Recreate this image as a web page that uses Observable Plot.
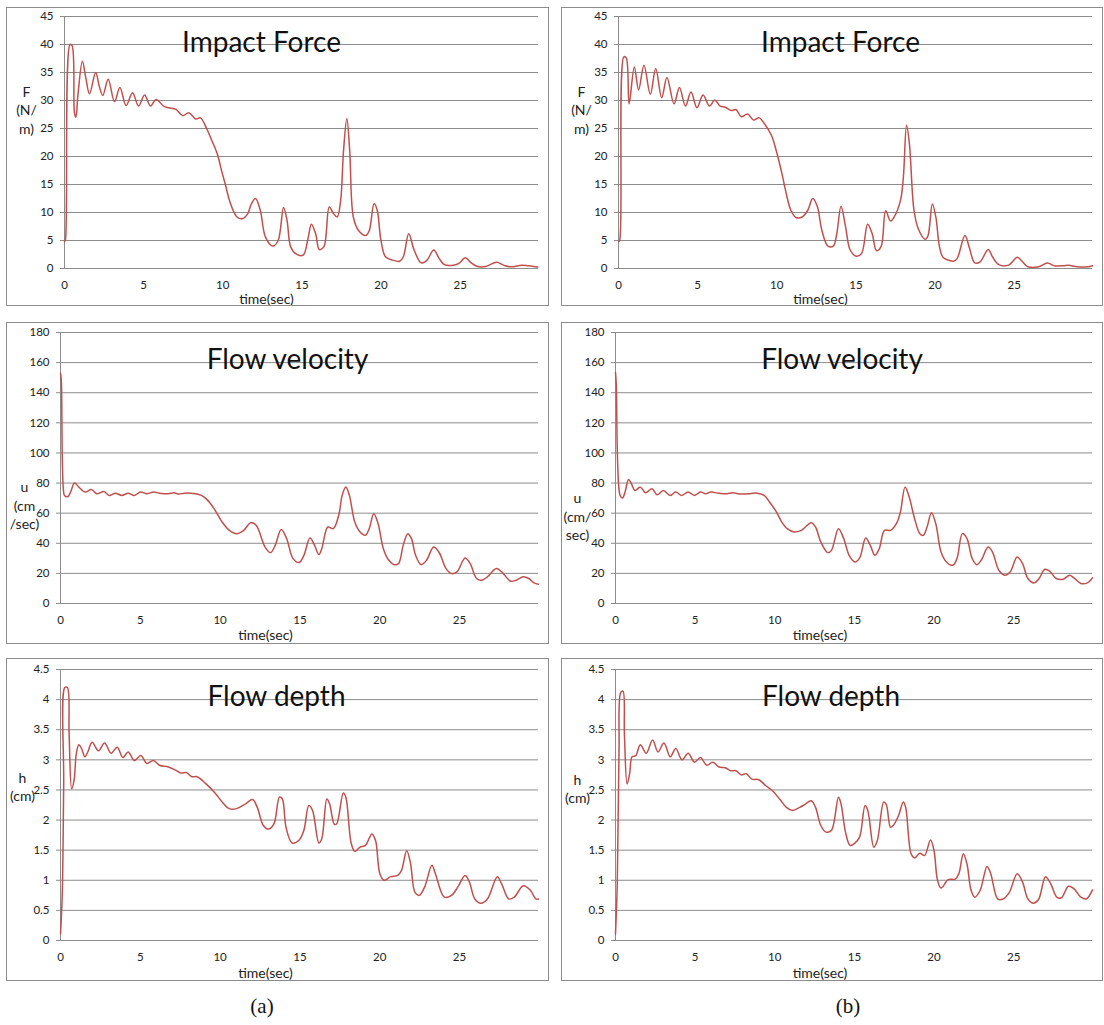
<!DOCTYPE html>
<html>
<head>
<meta charset="utf-8">
<script src="https://cdn.jsdelivr.net/npm/d3@7"></script>
<script src="https://cdn.jsdelivr.net/npm/@observablehq/plot@0.6"></script>
<style>
  html, body { margin: 0; padding: 0; background: #fff; }
  #root { position: relative; width: 1104px; height: 1025px; overflow: hidden; background: #fff; }
  .panel { position: absolute; overflow: hidden; background: #fff; }
  .panel svg { position: absolute; left: 0; top: 0; }
  .border { position: absolute; inset: 0; border: 1px solid #8c8c8c; box-sizing: border-box; pointer-events: none; }
  .cap { position: absolute; font-family: "Liberation Serif", "Times New Roman", serif; font-size: 21px; color: #111; transform: translateX(-50%); }
</style>
</head>
<body>
<div id="root"></div>
<script>
// ---------- data: [time (sec), value] ----------
const forceA = [[0,4.8],[0.06,5.2],[0.35,40],[0.48,39.8],[0.63,27.8],[0.72,27],[0.85,31],[1.13,37],[1.35,34],[1.58,31.2],[1.97,35],[2.2,32.5],[2.42,30.9],[2.76,33.8],[3.16,29.8],[3.5,32.3],[3.89,29.1],[4.3,31.4],[4.68,29],[5.06,31],[5.43,29],[5.79,30.2],[6.26,29],[6.6,28.7],[7.05,28.4],[7.46,27.3],[7.85,27.8],[8.3,26.7],[8.59,26.9],[8.98,25],[9.3,22.9],[9.65,20.5],[9.95,17.2],[10.2,14.6],[10.45,11.9],[10.9,9.2],[11.24,8.9],[11.58,9.8],[11.8,11.5],[12.07,12.5],[12.37,10.4],[12.7,5.6],[13.16,4],[13.5,5],[13.84,10.9],[14.06,8.6],[14.29,3.9],[14.63,2.6],[15.08,2.4],[15.37,5.1],[15.6,7.9],[15.87,6.2],[16.1,3.4],[16.39,3.9],[16.73,11],[17.0,9.8],[17.23,9.2],[17.45,12.2],[17.63,21],[17.84,26.8],[18.02,21.1],[18.25,9.2],[18.58,6.8],[19.04,5.9],[19.26,6.8],[19.56,11.6],[19.76,10.4],[19.99,5.1],[20.28,2.1],[20.73,1.5],[21.18,1.3],[21.41,2.1],[21.75,6.2],[22.09,3.3],[22.54,1],[22.88,1.4],[23.33,3.3],[23.67,1.8],[24.0,0.7],[24.58,0.6],[24.92,0.9],[25.32,1.9],[25.7,1],[26.05,0.4],[26.6,0.35],[27.3,1.1],[27.74,0.6],[28.2,0.3],[28.9,0.6],[29.3,0.5],[29.9,0.25]];

const forceB = [[0,4.8],[0.07,5],[0.34,37.8],[0.49,37.6],[0.67,29.4],[1.0,36],[1.27,31.9],[1.61,36.3],[2.01,31.1],[2.35,35.7],[2.73,30.5],[3.06,34.1],[3.51,29.4],[3.85,32.3],[4.23,29],[4.58,31.5],[4.96,28.7],[5.34,31],[5.75,29],[6.08,30.1],[6.42,29],[6.75,28.8],[7.13,28.2],[7.42,28.4],[7.76,27.1],[8.16,27.6],[8.54,26.5],[8.88,26.9],[9.21,25.9],[9.66,23.8],[9.99,20.8],[10.33,16.9],[10.55,14],[10.89,10.4],[11.22,9.1],[11.6,9.2],[11.96,10.4],[12.27,12.5],[12.56,11.1],[12.85,6.8],[13.23,4],[13.57,4],[13.79,6.2],[14.06,11.1],[14.35,7.4],[14.64,3.3],[15.02,2.2],[15.36,2.7],[15.74,7.9],[16.03,6.2],[16.3,3.2],[16.59,3.9],[16.88,10.3],[17.19,8.5],[17.42,9.2],[17.82,12.2],[18.0,16.3],[18.2,25.6],[18.38,22.3],[18.67,10.4],[18.94,7.1],[19.38,5.2],[19.56,5.9],[19.83,11.5],[20.05,9.2],[20.28,3.9],[20.5,2],[20.84,1.5],[21.17,1.3],[21.4,1.8],[21.89,5.9],[22.18,3.6],[22.51,1],[22.85,1.2],[23.36,3.4],[23.63,2.1],[24.03,0.7],[24.64,0.6],[25.2,2],[25.53,1.2],[25.87,0.3],[26.54,0.3],[27.1,1],[27.54,0.5],[28.1,0.5],[28.44,0.6],[29.0,0.3],[29.67,0.3],[29.95,0.5]];

const velocityA = [[0,153],[0.05,148],[0.11,98],[0.18,76],[0.25,71.8],[0.47,71.1],[0.63,74],[0.88,80],[1.15,77.3],[1.55,74],[1.93,75.7],[2.27,72.9],[2.72,74.4],[3.05,71.8],[3.44,73.3],[3.84,71.8],[4.24,73.3],[4.63,71.8],[5.01,74],[5.41,72.9],[5.82,74],[6.2,73.3],[6.76,72.9],[7.1,73.5],[7.43,72.7],[7.77,73.3],[8.44,72.9],[8.83,71.8],[9.23,68.5],[9.63,62.9],[10.13,54.1],[10.58,48.6],[11.03,46.4],[11.48,48.6],[11.92,53.7],[12.26,51.9],[12.82,37.5],[13.16,33.8],[13.45,38.6],[13.83,49.2],[14.17,43.1],[14.57,29.8],[14.95,27.2],[15.25,32],[15.63,43.5],[15.92,38.6],[16.19,32.5],[16.37,36.4],[16.75,50.8],[17.09,49.7],[17.43,58.5],[17.65,71.8],[17.88,77.3],[18.1,71.8],[18.44,54.1],[18.77,47.5],[19.11,45.3],[19.34,49.7],[19.63,59.6],[19.9,53],[20.23,36.4],[20.57,28.7],[20.91,25.8],[21.18,26.5],[21.47,38.6],[21.76,46.4],[21.99,43.1],[22.25,32],[22.59,25.8],[22.93,28.7],[23.38,37.5],[23.71,34.2],[24.16,23.2],[24.5,19.9],[24.84,21],[25.35,30.3],[25.67,26.5],[26.07,16.6],[26.41,15.5],[26.75,17.7],[27.31,23.2],[27.64,21],[28.21,14.8],[28.55,15.5],[29.0,17.7],[29.34,16.6],[29.67,13.7],[29.95,12.8]];

const velocityB = [[0,153.5],[0.05,145],[0.11,102.7],[0.2,78.4],[0.29,71.8],[0.44,70],[0.6,74],[0.82,82.4],[1.0,79.5],[1.22,75.1],[1.56,77.3],[1.89,73.5],[2.29,76.2],[2.62,72.2],[3.0,75.1],[3.44,71.8],[3.78,74],[4.16,71.8],[4.56,74],[4.96,71.8],[5.33,74],[5.67,72.9],[6.0,74],[6.44,73.3],[7.0,72.9],[7.33,73.5],[7.89,72.7],[8.33,72.9],[8.89,73.3],[9.33,71.8],[9.67,67.4],[10.11,60.7],[10.44,54.1],[10.78,49.7],[11.22,47.5],[11.67,48.6],[12.29,53.7],[12.56,50.8],[12.89,40.9],[13.33,33.8],[13.56,35.3],[14.0,49.7],[14.33,43.1],[14.67,32],[15.04,27.6],[15.33,30.3],[15.71,43.5],[16.0,38.6],[16.29,32],[16.56,36.4],[16.89,48.6],[17.27,48.6],[17.67,53.7],[17.89,60.7],[18.18,77.3],[18.44,70.7],[18.78,56.3],[19.11,46.4],[19.33,45.3],[19.56,50.8],[19.84,60.3],[20.11,53],[20.44,34.2],[20.78,27.6],[21.18,25.4],[21.44,29.8],[21.78,46.4],[22.07,43.1],[22.38,30.3],[22.67,25.8],[22.96,28.7],[23.4,37.5],[23.67,34.2],[24.07,22.1],[24.44,18.8],[24.78,21],[25.22,30.9],[25.56,26.5],[25.89,16.6],[26.29,13.7],[26.6,16.6],[26.96,22.7],[27.27,21.4],[27.67,16.6],[28.11,16.1],[28.51,18.8],[28.78,17],[29.22,13.3],[29.62,13.7],[29.95,17]];

const depthA = [[0,0.11],[0.11,0.77],[0.2,2.6],[0.27,4.2],[0.43,4.2],[0.54,3.43],[0.7,2.52],[0.85,2.66],[0.99,3.1],[1.15,3.25],[1.33,3.18],[1.53,3.05],[1.71,3.13],[1.98,3.29],[2.38,3.15],[2.76,3.28],[3.17,3.11],[3.55,3.21],[3.91,3.04],[4.24,3.13],[4.63,2.99],[5.03,3.07],[5.41,2.94],[5.82,2.99],[6.2,2.91],[6.76,2.88],[7.21,2.83],[7.55,2.78],[7.88,2.79],[8.22,2.72],[8.56,2.72],[9.12,2.6],[9.68,2.45],[10.13,2.3],[10.58,2.19],[11.03,2.19],[11.59,2.27],[12.04,2.34],[12.33,2.21],[12.71,1.91],[13.05,1.85],[13.38,1.94],[13.72,2.38],[13.9,2.35],[14.13,1.88],[14.51,1.62],[14.96,1.67],[15.25,1.83],[15.56,2.24],[15.79,2.16],[16.19,1.62],[16.37,1.69],[16.69,2.35],[16.86,2.27],[17.16,1.93],[17.31,1.94],[17.72,2.45],[17.88,2.38],[18.21,1.62],[18.44,1.48],[18.77,1.55],[19.11,1.58],[19.51,1.77],[19.74,1.66],[20.01,1.11],[20.28,1.0],[20.68,1.06],[21.13,1.08],[21.36,1.16],[21.69,1.49],[21.92,1.3],[22.21,0.8],[22.48,0.75],[22.82,0.89],[23.27,1.25],[23.49,1.11],[24.05,0.72],[24.5,0.75],[24.9,0.89],[25.35,1.08],[25.62,0.97],[25.96,0.69],[26.34,0.62],[26.75,0.69],[27.37,1.06],[27.64,0.94],[28.09,0.69],[28.43,0.72],[29.0,0.91],[29.45,0.83],[29.78,0.69],[29.95,0.69]];

const depthB = [[0,0.11],[0.11,0.94],[0.22,3.15],[0.33,4.12],[0.47,4.14],[0.56,3.43],[0.73,2.6],[0.89,2.77],[1.04,3.05],[1.27,3.07],[1.56,3.25],[1.93,3.11],[2.33,3.33],[2.67,3.13],[3.04,3.28],[3.44,3.05],[3.78,3.19],[4.18,3.0],[4.56,3.11],[4.96,2.96],[5.33,3.04],[5.73,2.91],[6.11,2.96],[6.51,2.88],[6.89,2.87],[7.22,2.82],[7.56,2.82],[7.89,2.75],[8.22,2.77],[8.56,2.68],[9.0,2.67],[9.44,2.57],[9.84,2.49],[10.33,2.34],[10.73,2.21],[11.11,2.16],[11.56,2.21],[11.89,2.26],[12.29,2.32],[12.56,2.21],[12.89,1.91],[13.22,1.8],[13.56,1.83],[14.0,2.38],[14.16,2.27],[14.44,1.8],[14.73,1.58],[15.04,1.62],[15.33,1.72],[15.67,2.24],[15.84,2.16],[16.22,1.55],[16.44,1.66],[16.84,2.3],[17.0,2.26],[17.27,1.88],[17.44,1.91],[17.78,2.08],[18.07,2.3],[18.22,2.21],[18.56,1.44],[18.78,1.37],[19.11,1.45],[19.4,1.41],[19.78,1.67],[20.0,1.49],[20.22,1.0],[20.44,0.87],[20.89,1.01],[21.33,1.02],[21.56,1.11],[21.84,1.44],[22.07,1.27],[22.33,0.83],[22.56,0.72],[22.89,0.83],[23.33,1.23],[23.56,1.11],[24.0,0.69],[24.33,0.69],[24.73,0.8],[25.22,1.11],[25.56,0.97],[25.89,0.69],[26.22,0.62],[26.56,0.68],[27.0,1.06],[27.33,0.94],[27.71,0.72],[28.0,0.71],[28.44,0.9],[28.78,0.86],[29.22,0.72],[29.56,0.69],[29.95,0.84]];

// ---------- tick values and labels ----------
const xTicks = [0, 5, 10, 15, 20, 25];
const forceTicks = [0, 5, 10, 15, 20, 25, 30, 35, 40, 45];
const velocityTicks = [0, 20, 40, 60, 80, 100, 120, 140, 160, 180];
const depthTicks = [0, 0.5, 1, 1.5, 2, 2.5, 3, 3.5, 4, 4.5];
const titles = ["Impact Force", "Flow velocity", "Flow depth"];
const xLabel = "time(sec)";
const yLabelsA = ["F\n(N/\nm)", "u\n(cm\n/sec)", "h\n(cm)"];
const yLabelsB = ["F\n(N/\nm)", "u\n(cm/\nsec)", "h\n(cm)"];
const captions = ["(a)", "(b)"];

// ---------- layout ----------
const panels = [
  {data: forceA,    ticks: forceTicks,    title: titles[0], ylab: yLabelsA[0], left: 6,   top: 7,   w: 543, h: 299, mL: 58, mR: 11, mT: 9,  mB: 38, tdx: -40, tdy: 27, ldx: -38, ldy: -33, xdx: -35, xdy: 31},
  {data: velocityA, ticks: velocityTicks, title: titles[1], ylab: yLabelsA[1], left: 6,   top: 322, w: 543, h: 322, mL: 54, mR: 11, mT: 10, mB: 41, tdx: -12, tdy: 28, ldx: -36, ldy: 37, xdx: -34, xdy: 32},
  {data: depthA,    ticks: depthTicks,    title: titles[2], ylab: yLabelsA[2], left: 6,   top: 658, w: 543, h: 323, mL: 54, mR: 11, mT: 11, mB: 41, tdx: -23, tdy: 28, ldx: -38, ldy: -19, xdx: -34, xdy: 33},
  {data: forceB,    ticks: forceTicks,    title: titles[0], ylab: yLabelsB[0], left: 561, top: 7,   w: 542, h: 299, mL: 57, mR: 11, mT: 9,  mB: 38, tdx: -15, tdy: 27, ldx: -37, ldy: -33, xdx: -35, xdy: 31},
  {data: velocityB, ticks: velocityTicks, title: titles[1], ylab: yLabelsB[1], left: 561, top: 322, w: 542, h: 322, mL: 54, mR: 11, mT: 10, mB: 41, tdx: -12, tdy: 28, ldx: -38, ldy: 48, xdx: -34, xdy: 32},
  {data: depthB,    ticks: depthTicks,    title: titles[2], ylab: yLabelsB[2], left: 561, top: 658, w: 542, h: 323, mL: 54, mR: 11, mT: 11, mB: 41, tdx: -23, tdy: 28, ldx: -38, ldy: -17, xdx: -34, xdy: 33}
];

const root = document.getElementById("root");
const GRID = "#8c8c8c";
const LINE = "#c0504d";
const FONT = "Lato, 'Open Sans', sans-serif";

for (const p of panels) {
  const div = document.createElement("div");
  div.className = "panel";
  Object.assign(div.style, {left: p.left + "px", top: p.top + "px", width: p.w + "px", height: p.h + "px"});
  const yMax = p.ticks[p.ticks.length - 1];
  const chart = Plot.plot({
    width: p.w,
    height: p.h,
    marginLeft: p.mL,
    marginRight: p.mR,
    marginTop: p.mT,
    marginBottom: p.mB,
    style: {fontFamily: FONT, fontSize: "11.5px", color: "#222", background: "transparent", overflow: "visible"},
    x: {domain: [0, 29.95]},
    y: {domain: [0, yMax]},
    marks: [
      Plot.gridY(p.ticks, {stroke: GRID, strokeOpacity: 1, strokeWidth: 1}),
      Plot.ruleX([0], {stroke: GRID, strokeWidth: 1}),
      Plot.axisY(p.ticks, {tickSize: 4, tickPadding: 7, stroke: GRID, fill: "#222", tickFormat: d => String(d), label: null}),
      Plot.axisX(xTicks, {tickSize: 0, tickPadding: 12, fill: "#222", tickFormat: d => String(d), label: null}),
      Plot.line(p.data, {x: d => d[0], y: d => d[1], stroke: LINE, strokeWidth: 1.5, curve: "catmull-rom"}),
      Plot.text([p.title], {frameAnchor: "top", dx: p.tdx, dy: p.tdy, fontSize: 28, lineAnchor: "middle", fill: "#111"}),
      Plot.text([p.ylab], {frameAnchor: "left", dx: p.ldx, dy: p.ldy, fontSize: 14, lineHeight: 1.32, textAnchor: "middle", lineAnchor: "middle", fill: "#222"}),
      Plot.text([xLabel], {frameAnchor: "bottom", dx: p.xdx, dy: p.xdy, fontSize: 14, lineAnchor: "middle", fill: "#222"})
    ]
  });
  div.appendChild(chart);
  const border = document.createElement("div");
  border.className = "border";
  div.appendChild(border);
  root.appendChild(div);
}

const capPos = [[262, 994], [848, 994]];
captions.forEach((c, i) => {
  const d = document.createElement("div");
  d.className = "cap";
  d.textContent = c;
  d.style.left = capPos[i][0] + "px";
  d.style.top = capPos[i][1] + "px";
  root.appendChild(d);
});
</script>
</body>
</html>
